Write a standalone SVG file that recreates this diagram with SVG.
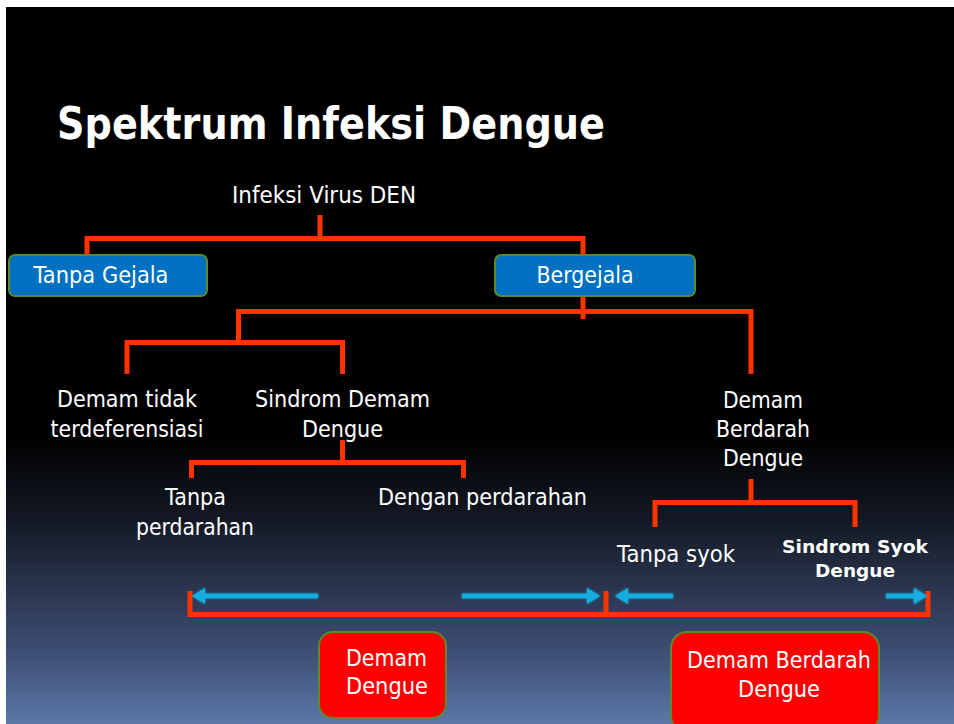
<svg xmlns="http://www.w3.org/2000/svg" width="954" height="724" viewBox="0 0 954 724">
  <defs>
    <linearGradient id="bg" gradientUnits="userSpaceOnUse" x1="0" y1="7" x2="0" y2="724">
      <stop offset="0" stop-color="#000000"/>
      <stop offset="0.6" stop-color="#000000"/>
      <stop offset="0.72" stop-color="#141a26"/>
      <stop offset="0.82" stop-color="#2c3751"/>
      <stop offset="0.9" stop-color="#3e4e74"/>
      <stop offset="1" stop-color="#5b78a8"/>
    </linearGradient>
    <filter id="glow" x="-20%" y="-100%" width="140%" height="300%">
      <feGaussianBlur in="SourceGraphic" stdDeviation="1.5" result="b"/>
      <feMerge><feMergeNode in="b"/><feMergeNode in="SourceGraphic"/></feMerge>
    </filter>
    <style>
      .t { font-family: "DejaVu Sans", "Liberation Sans", sans-serif; fill: #ffffff; font-size: 23px; text-anchor: middle; }
      .tb { font-family: "DejaVu Sans", "Liberation Sans", sans-serif; fill: #ffffff; font-size: 18px; font-weight: bold; text-anchor: middle; }
      .title { font-family: "DejaVu Sans", "Liberation Sans", sans-serif; fill: #ffffff; font-size: 45px; font-weight: bold; }
      .con { fill: none; stroke: #ff3300; stroke-width: 5; stroke-linejoin: miter; }
      .blue { fill: #0070c0; stroke: #5d8a2e; stroke-width: 2; }
      .red { fill: #ff0000; stroke: #5d8a2e; stroke-width: 2; }
      .arr { stroke: #12aee0; stroke-width: 4.5; fill: none; }
      .ah { fill: #12aee0; }
    </style>
  </defs>

  <rect x="0" y="0" width="954" height="724" fill="#ffffff"/>
  <rect x="6" y="7" width="948" height="717" fill="url(#bg)"/>

  <text class="title" x="57" y="139" textLength="548" lengthAdjust="spacingAndGlyphs">Spektrum Infeksi Dengue</text>

  <g id="connectors">
    <path class="con" d="M320,215 V238.5"/>
    <path class="con" d="M87,258 V238.5 H583 V258"/>
    <path class="con" d="M583,294 V319"/>
    <path class="con" d="M238.5,344 V311.5 H751 V374"/>
    <path class="con" d="M127,374 V342.5 H342.5 V374"/>
    <path class="con" d="M342.5,440 V462.5"/>
    <path class="con" d="M191.5,478 V462.5 H463.5 V478"/>
    <path class="con" d="M751,479 V502.5"/>
    <path class="con" d="M655,527 V502.5 H855 V527"/>
    <path class="con" d="M190,591 V614.5 H928 V591"/>
    <path class="con" d="M606,591 V614.5"/>
  </g>

  <g id="arrows" filter="url(#glow)">
    <path class="arr" d="M318,596 H202"/>
    <polygon class="ah" points="192,596 205,588 205,604"/>
    <path class="arr" d="M462,596 H590"/>
    <polygon class="ah" points="600,596 587,588 587,604"/>
    <path class="arr" d="M673,596 H625"/>
    <polygon class="ah" points="615,596 628,588 628,604"/>
    <path class="arr" d="M886,596 H917"/>
    <polygon class="ah" points="927,596 914,588 914,604"/>
  </g>

  <g id="n-infeksi">
    <text class="t" x="324" y="203" textLength="184" lengthAdjust="spacingAndGlyphs">Infeksi Virus DEN</text>
  </g>

  <g id="n-tanpa-gejala">
    <rect class="blue" x="9" y="255" width="198" height="41" rx="6"/>
    <text class="t" x="101" y="283" textLength="135" lengthAdjust="spacingAndGlyphs">Tanpa Gejala</text>
  </g>

  <g id="n-bergejala">
    <rect class="blue" x="495" y="255" width="200" height="41" rx="6"/>
    <text class="t" x="585" y="283" textLength="97" lengthAdjust="spacingAndGlyphs">Bergejala</text>
  </g>

  <g id="n-demam-tidak">
    <text class="t" x="127" y="407" textLength="140" lengthAdjust="spacingAndGlyphs">Demam tidak</text>
    <text class="t" x="127" y="437" textLength="153" lengthAdjust="spacingAndGlyphs">terdeferensiasi</text>
  </g>

  <g id="n-sindrom-demam">
    <text class="t" x="342.5" y="407" textLength="175" lengthAdjust="spacingAndGlyphs">Sindrom Demam</text>
    <text class="t" x="342.5" y="437" textLength="81" lengthAdjust="spacingAndGlyphs">Dengue</text>
  </g>

  <g id="n-dbd">
    <text class="t" x="763" y="408" textLength="80" lengthAdjust="spacingAndGlyphs">Demam</text>
    <text class="t" x="763" y="437" textLength="94" lengthAdjust="spacingAndGlyphs">Berdarah</text>
    <text class="t" x="763" y="466" textLength="80" lengthAdjust="spacingAndGlyphs">Dengue</text>
  </g>

  <g id="n-tanpa-perdarahan">
    <text class="t" x="195.5" y="505" textLength="61" lengthAdjust="spacingAndGlyphs">Tanpa</text>
    <text class="t" x="195" y="535" textLength="118" lengthAdjust="spacingAndGlyphs">perdarahan</text>
  </g>

  <g id="n-dengan-perdarahan">
    <text class="t" x="482.5" y="505" textLength="209" lengthAdjust="spacingAndGlyphs">Dengan perdarahan</text>
  </g>

  <g id="n-tanpa-syok">
    <text class="t" x="676" y="562" textLength="118" lengthAdjust="spacingAndGlyphs">Tanpa syok</text>
  </g>

  <g id="n-sindrom-syok">
    <text class="tb" x="855" y="553" textLength="146" lengthAdjust="spacingAndGlyphs">Sindrom Syok</text>
    <text class="tb" x="855" y="577" textLength="80" lengthAdjust="spacingAndGlyphs">Dengue</text>
  </g>

  <g id="n-demam-dengue">
    <rect class="red" x="319" y="632" width="127" height="86" rx="14"/>
    <text class="t" x="386.5" y="666" textLength="81" lengthAdjust="spacingAndGlyphs">Demam</text>
    <text class="t" x="387" y="694" textLength="82" lengthAdjust="spacingAndGlyphs">Dengue</text>
  </g>

  <g id="n-demam-berdarah-dengue">
    <rect class="red" x="671" y="632" width="208" height="100" rx="16"/>
    <text class="t" x="779" y="668" textLength="184" lengthAdjust="spacingAndGlyphs">Demam Berdarah</text>
    <text class="t" x="779" y="697" textLength="82" lengthAdjust="spacingAndGlyphs">Dengue</text>
  </g>
</svg>
